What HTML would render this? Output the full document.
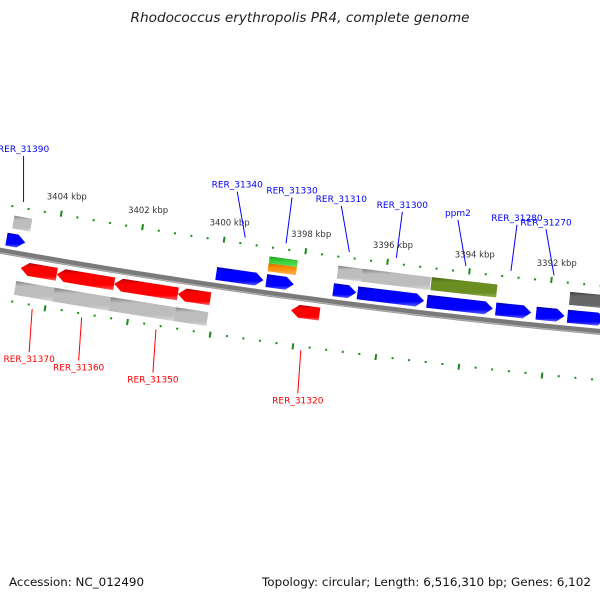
<!DOCTYPE html>
<html><head><meta charset="utf-8"><style>
html,body{margin:0;padding:0;background:#fff;}
svg{display:block;font-family:"DejaVu Sans","Liberation Sans",sans-serif;}
</style></head><body>
<svg id="map" width="600" height="600" viewBox="0 0 600 600" xmlns="http://www.w3.org/2000/svg">
<defs>
<linearGradient id="gBlue" x1="0" y1="0" x2="0" y2="1"><stop offset="0" stop-color="#0000a8"/><stop offset="0.25" stop-color="#0000ff"/><stop offset="0.75" stop-color="#0000ff"/><stop offset="1" stop-color="#6060ff"/></linearGradient>
<linearGradient id="gRed" x1="0" y1="0" x2="0" y2="1"><stop offset="0" stop-color="#b00000"/><stop offset="0.25" stop-color="#ff0000"/><stop offset="0.75" stop-color="#ff0000"/><stop offset="1" stop-color="#ff6060"/></linearGradient>
<linearGradient id="gGray" x1="0" y1="0" x2="0" y2="1"><stop offset="0" stop-color="#808080"/><stop offset="0.25" stop-color="#bdbdbd"/><stop offset="0.75" stop-color="#bdbdbd"/><stop offset="1" stop-color="#d8d8d8"/></linearGradient>
<linearGradient id="gDark" x1="0" y1="0" x2="0" y2="1"><stop offset="0" stop-color="#3a3a3a"/><stop offset="0.25" stop-color="#666"/><stop offset="0.75" stop-color="#666"/><stop offset="1" stop-color="#8a8a8a"/></linearGradient>
<linearGradient id="gOlive" x1="0" y1="0" x2="0" y2="1"><stop offset="0" stop-color="#4a6a16"/><stop offset="0.25" stop-color="#6b8e23"/><stop offset="0.75" stop-color="#6b8e23"/><stop offset="1" stop-color="#93b050"/></linearGradient>
<linearGradient id="gGreen" x1="0" y1="0" x2="0" y2="1"><stop offset="0" stop-color="#1e9a1e"/><stop offset="0.4" stop-color="#33cc33"/><stop offset="1" stop-color="#66dd66"/></linearGradient>
<linearGradient id="gOrange" x1="0" y1="0" x2="0" y2="1"><stop offset="0" stop-color="#d07000"/><stop offset="0.4" stop-color="#ff8c00"/><stop offset="1" stop-color="#ffb050"/></linearGradient>
</defs>
<text x="300" y="22" text-anchor="middle" font-size="13" font-style="italic" fill="#222" textLength="339" lengthAdjust="spacingAndGlyphs">Rhodococcus erythropolis PR4, complete genome</text>
<text x="9" y="586" font-size="11.5" fill="#111" textLength="135" lengthAdjust="spacingAndGlyphs">Accession: NC_012490</text>
<text x="591" y="586" text-anchor="end" font-size="11.5" fill="#111" textLength="329" lengthAdjust="spacingAndGlyphs">Topology: circular; Length: 6,516,310 bp; Genes: 6,102</text>
<g id="layer"></g>
</svg>
<script>
// ---- data (kbp) ----
const blueGenes = [[3405.2,3404.74],[3400.07,3398.92],[3398.85,3398.18],[3397.22,3396.66],[3396.63,3395.01],[3394.94,3393.34],[3393.27,3392.41],[3392.29,3391.60],[3391.53,3390.6]];
const redGenes = [[3404.74,3403.86],[3403.86,3402.46],[3402.46,3400.91],[3400.91,3400.12],[3398.16,3397.47]];
const grayTop = [[3405.11,3404.67],[3397.17,3396.58],[3396.58,3394.91]];
const oliveTop = [[3394.89,3393.29]];
const darkTop = [[3391.52,3390.5]];
const greenTop = [[3398.85,3398.16]];
const orangeTop = [[3398.85,3398.16]];
const grayBottom = [[3404.79,3403.86],[3403.86,3402.49],[3402.49,3400.91],[3400.91,3400.12]];
const tickLabels = [3404,3402,3400,3398,3396,3394,3392];
const blueLabels = ["RER_31390","RER_31340","RER_31330","RER_31310","RER_31300","ppm2","RER_31280","RER_31270"];
const blueLabelKbp = [3404.95,3399.5,3398.5,3396.95,3395.8,3394.1,3393.0,3391.95];
const redLabels = ["RER_31370","RER_31360","RER_31350","RER_31320"];
const redLabelKbp = [3404.3,3403.1,3401.3,3397.8];

// ---- geometry ----
const CX=1238, CY=-6639, R=7000, A0=0.14634, K=5.93e-3;
function pt(kbp,d){const a=A0+(kbp-3400)*K;const r=R+d;return [CX-r*Math.sin(a),CY+r*Math.cos(a)];}
const NS="http://www.w3.org/2000/svg";
const layer=document.getElementById('layer');
function mk(tag,attrs){const e=document.createElementNS(NS,tag);for(const k in attrs)e.setAttribute(k,attrs[k]);layer.appendChild(e);return e;}
function arc(s,e,d,n){const p=[];for(let i=0;i<=n;i++){p.push(pt(s+(e-s)*i/n,d));}return p;}
function poly(points){return points.map(p=>p[0].toFixed(2)+','+p[1].toFixed(2)).join(' ');}

// backbone
{
 const top=arc(3406.5,3389.5,-3,60), bot=arc(3389.5,3406.5,3,60);
 const e=mk('polygon',{points:poly(top.concat(bot)),fill:'#7a7a7a'});
 
 
 const l=mk('polyline',{points:poly(arc(3406.5,3389.5,2,60)),fill:'none',stroke:'#b0b0b0','stroke-width':1.2});
 
 
}

// ticks
function tickRing(d,dir){
 for(let k=3389.6;k<=3406.4;k+=0.4){
  const kk=Math.round(k*10)/10;
  const major=Math.abs(kk/2-Math.round(kk/2))<1e-6;
  let e;
  if(major){const a=pt(kk,d),b=pt(kk,d+dir*6);
   e=mk('line',{x1:a[0],y1:a[1],x2:b[0],y2:b[1],stroke:'#1a8a1a','stroke-width':2});
   
  } else {const a=pt(kk,d+dir*1),b=pt(kk,d+dir*3);
   e=mk('line',{x1:a[0],y1:a[1],x2:b[0],y2:b[1],stroke:'#1a8a1a','stroke-width':2});
   
  }
  
 }
}
tickRing(-44,-1);
tickRing(46,1);
tickLabels.forEach(k=>{const p=pt(k,-50);
 const t=mk('text',{x:p[0]-15,y:p[1]-11,'font-size':8.5,fill:'#333'});t.textContent=k+' kbp';
 
 
});

// genes
function gene(s,e,d1,d2,fill,arrow,name){
 const al=0.19; let pts;
 if(arrow==='right'){const ee=e+al;pts=[pt(s,d1),pt(ee,d1),pt(e,(d1+d2)/2),pt(ee,d2),pt(s,d2)];}
 else if(arrow==='left'){const ss=s-al;pts=[pt(s,(d1+d2)/2),pt(ss,d1),pt(e,d1),pt(e,d2),pt(ss,d2)];}
 else pts=[pt(s,d1),pt(e,d1),pt(e,d2),pt(s,d2)];
 const el=mk('polygon',{points:poly(pts),fill:fill});
 
 
}
grayTop.forEach(g=>gene(g[0],g[1],-37,-24,'url(#gGray)',null,'feature-gray-top'));
oliveTop.forEach(g=>gene(g[0],g[1],-37,-24,'url(#gOlive)',null,'feature-olive'));
darkTop.forEach(g=>gene(g[0],g[1],-37,-24,'url(#gDark)',null,'feature-dark'));
greenTop.forEach(g=>gene(g[0],g[1],-37,-30,'url(#gGreen)',null,'feature-green'));
orangeTop.forEach(g=>gene(g[0],g[1],-30,-22,'url(#gOrange)',null,'feature-orange'));
blueGenes.forEach(g=>gene(g[0],g[1],-19,-6,'url(#gBlue)','right','forward-gene'));
redGenes.forEach(g=>gene(g[0],g[1],7,20,'url(#gRed)','left','reverse-gene'));
grayBottom.forEach(g=>gene(g[0],g[1],27,41,'url(#gGray)',null,'feature-gray-bottom'));

// labels
blueLabels.forEach((n,i)=>{
 const a=pt(blueLabelKbp[i],-52);
 const lx=a[0]+(i===0?0:(i%2?-8:6)), ly=a[1]-46;
 const ln=mk('line',{x1:a[0],y1:a[1],x2:lx,y2:ly,stroke:'#0000ff','stroke-width':1});
 
 
 const t=mk('text',{x:lx,y:ly-4,'text-anchor':'middle','font-size':9,fill:'#0000ff'});t.textContent=n;
 
 
});
redLabels.forEach((n,i)=>{
 const a=pt(redLabelKbp[i],52);
 const lx=a[0]-3, ly=a[1]+43;
 const ln=mk('line',{x1:a[0],y1:a[1],x2:lx,y2:ly,stroke:'#ff0000','stroke-width':1});
 
 
 const t=mk('text',{x:lx,y:ly+10,'text-anchor':'middle','font-size':9,fill:'#ff0000'});t.textContent=n;
 
 
});
</script>
</body></html>
